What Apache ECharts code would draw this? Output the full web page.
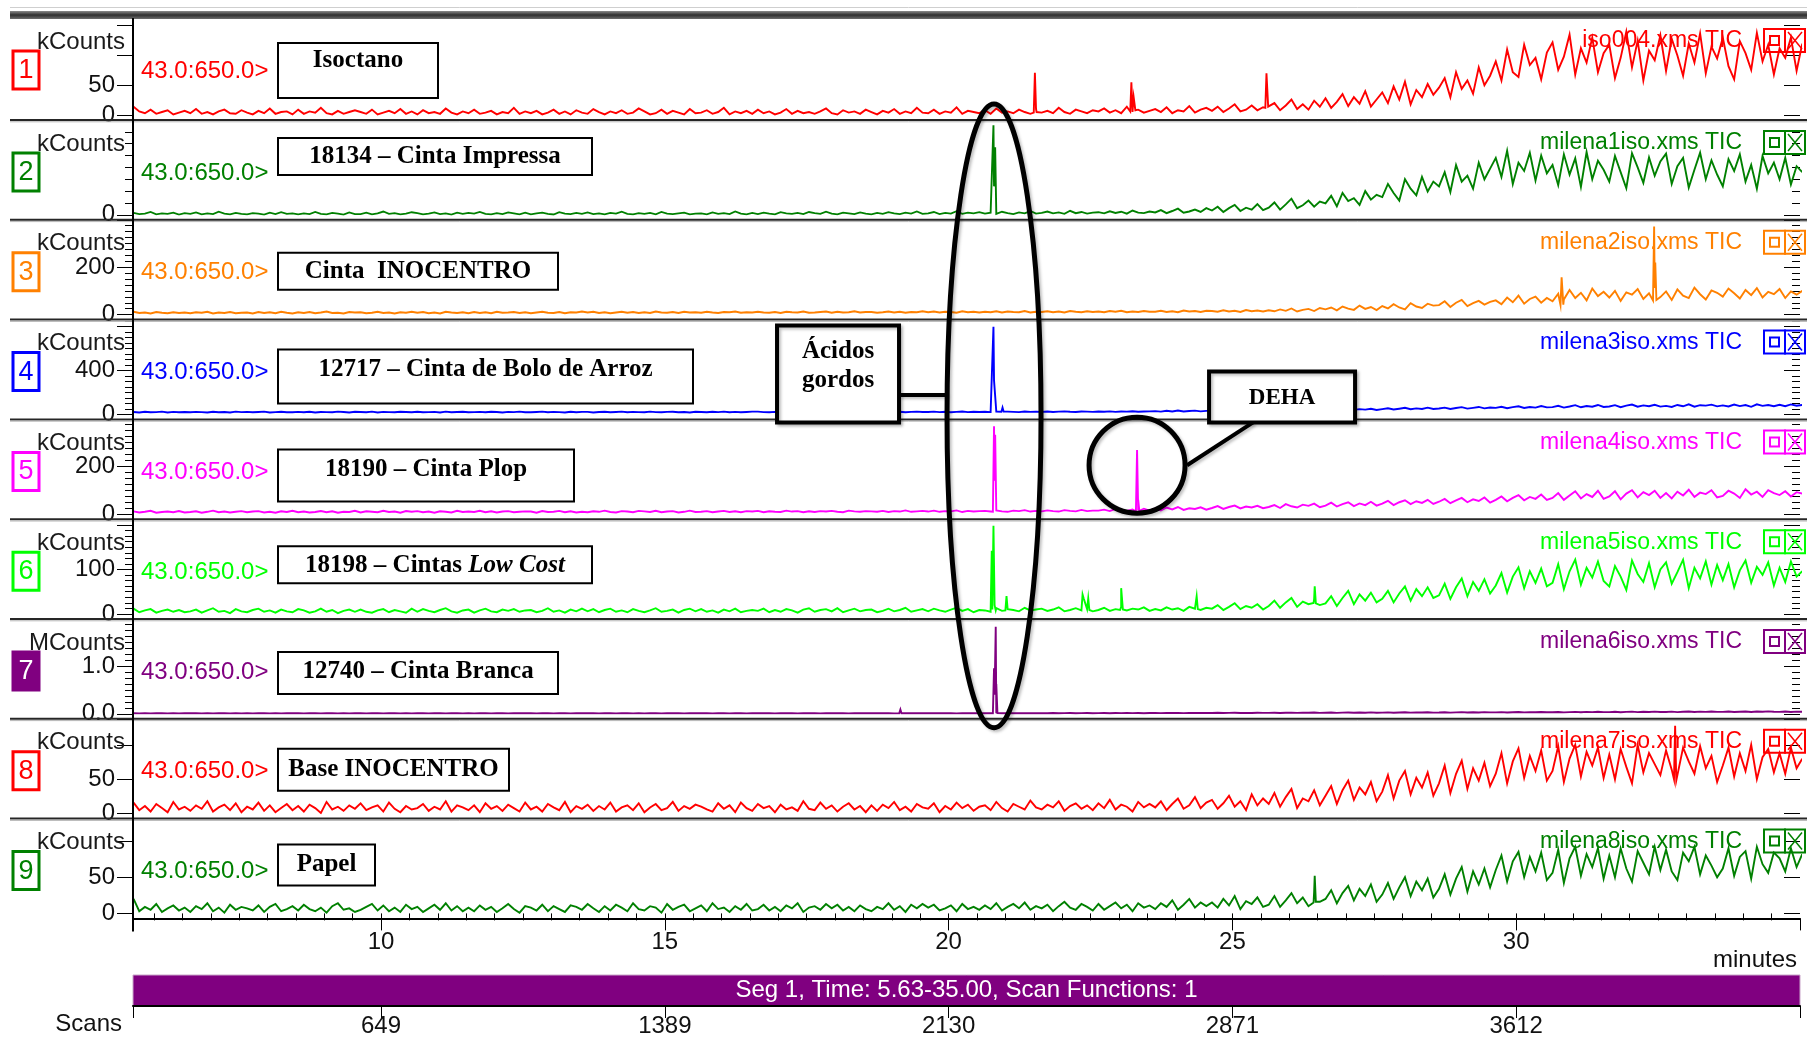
<!DOCTYPE html>
<html>
<head>
<meta charset="utf-8">
<title>TIC – amostras</title>
<script src="https://cdn.jsdelivr.net/npm/echarts@6/dist/echarts.min.js"></script>
<style>
  html, body { margin: 0; padding: 0; background: #ffffff; }
  #chart { width: 1807px; height: 1038px; }
</style>
</head>
<body>
<div id="chart"></div>
<script>
// ---- acquisition ----------------------------------------------------------
const timeRange = [5.63, 35.0];          // minutes
const T_START = 5.64, T_STEP = 0.1;      // TIC sampling used for the traces below (10 values per minute)
const massRange = '43.0:650.0>';

// ---- per-trace labels -----------------------------------------------------
const sampleNames = ['Isoctano', '18134 – Cinta Impressa', 'Cinta  INOCENTRO',
  '12717 – Cinta de Bolo de Arroz', '18190 – Cinta Plop', '18198 – Cintas Low Cost',
  '12740 – Cinta Branca', 'Base INOCENTRO', 'Papel'];
const italicPart = 'Low Cost';
const fileNames = ['iso004.xms TIC', 'milena1iso.xms TIC', 'milena2iso.xms TIC',
  'milena3iso.xms TIC', 'milena4iso.xms TIC', 'milena5iso.xms TIC',
  'milena6iso.xms TIC', 'milena7iso.xms TIC', 'milena8iso.xms TIC'];
const unitNames = ['kCounts', 'kCounts', 'kCounts', 'kCounts', 'kCounts', 'kCounts',
  'MCounts', 'kCounts', 'kCounts'];

// ---- y scales ---------------------------------------------------------------
const yMax      = [163, 400, 400, 865, 396, 213, 1.98, 138, 131];
const yMajor    = [50, 400, 200, 400, 200, 100, 1, 50, 50];
const yMinor    = [50, 50, 25, 50, 25, 12.5, 0.125, 50, 50];
const yLabelAt  = [[0, 50], [0], [0, 200], [0, 400], [0, 200], [0, 100], [0, 1], [0, 50], [0, 50]];
const yDecimals = [0, 0, 0, 0, 0, 0, 1, 0, 0];

// ---- time axis ticks & scan numbers ----------------------------------------
const timeLabels = [10, 15, 20, 25, 30];
const scanNumbers = [649, 1389, 2130, 2871, 3612];

// ---- TIC traces: one row per minute, starting at T_START --------------------
const ticIsoctano = [
  14,6,3,9,2,5,8,1,4,7,  3,10,2,5,1,6,9,3,2,8,  4,1,7,3,11,2,5,6,1,9,  2,6,4,12,3,1,7,2,5,8,
  5,2,9,1,4,7,3,10,2,6,  1,8,3,5,2,11,4,1,6,3,  9,2,4,7,1,5,3,12,2,6,  3,7,1,4,9,2,6,1,8,4,
  2,10,5,1,6,3,8,2,4,11,  6,1,3,9,2,7,4,1,10,3,  4,8,2,5,12,1,6,3,7,2,  9,3,6,1,4,10,2,7,3,5,
  2,6,11,3,1,8,4,6,2,9,  5,1,7,4,10,2,6,3,12,4,  3,9,2,6,4,13,2,7,5,3,  8,2,11,4,6,3,9,5,2,10,
  4,7,3,12,5,2,9,6,3,8,  6,11,4,8,3,14,5,9,4,7,  10,5,13,3,8,6,15,4,9,12,  7,14,5,11,18,6,9,16,8,13,
  12,20,8,16,26,10,18,9,24,14,  28,12,22,35,15,30,19,40,14,26,  38,20,48,26,56,18,42,30,52,34,
  46,62,30,72,44,58,36,80,50,66,  90,58,110,72,64,118,84,96,60,105,  122,76,98,135,68,112,88,130,72,104,
  118,62,96,140,80,125,58,108,92,134,  74,128,100,66,120,88,137,70,115,95,  130,82,60,124,104,76,138,90,118,68,
  112,96,130,74,120];
const ticCintaImpressa = [
  8,3,5,12,2,6,4,9,1,7,  4,10,2,6,3,13,5,2,8,4,  2,7,5,1,9,3,11,4,6,2,  6,3,12,4,2,8,5,1,10,3,
  3,9,2,6,14,4,7,2,5,11,  7,2,5,10,3,6,1,9,4,8,  5,12,4,2,7,3,10,6,2,9,  2,6,9,4,1,11,5,3,8,4,
  10,3,6,2,8,5,13,4,2,7,  4,8,2,12,5,3,6,9,2,5,  6,2,10,4,7,3,14,5,2,8,  3,9,5,2,11,6,4,8,3,12,
  7,4,13,5,2,9,6,3,10,5,  2,8,4,11,6,3,9,5,14,4,  6,12,3,8,5,15,4,9,6,11,  5,9,4,13,7,3,10,6,16,5,
  8,14,6,10,4,17,7,12,5,9,  11,6,15,8,13,5,18,9,7,14,  10,20,7,16,26,9,14,22,12,28,  18,34,12,28,42,16,30,22,45,20,
  30,52,22,44,68,28,40,60,34,56,  48,80,36,92,58,70,42,100,64,84,  75,130,92,60,150,110,82,160,98,140,
  120,180,96,210,140,165,110,220,150,195,  240,160,270,130,220,185,262,145,250,175,  210,125,255,170,238,118,265,150,228,190,
  140,248,180,112,260,200,135,242,165,225,  258,130,205,240,115,190,262,150,230,170,  120,235,185,255,140,210,110,248,175,220,
  150,240,128,205,180];
const ticCintaInocentro = [
  12,7,9,5,11,8,6,10,7,9,  6,10,8,12,5,9,7,11,6,8,  9,5,11,7,10,6,12,8,5,10,  7,11,6,9,13,7,8,5,11,9,
  10,6,8,12,7,9,5,10,8,12,  8,11,6,9,5,12,9,7,10,6,  11,7,10,6,12,8,9,11,7,10,  6,9,12,8,7,11,6,10,9,13,
  9,12,7,10,6,9,12,8,11,7,  10,7,13,9,8,11,7,12,9,10,  8,12,9,7,11,10,13,8,10,9,  12,9,8,11,7,12,10,9,13,8,
  9,11,13,8,12,9,10,14,9,11,  11,8,10,13,9,12,8,11,10,14,  10,13,9,12,11,8,14,10,12,9,  12,10,14,9,13,11,10,15,9,12,
  11,14,10,13,9,15,12,10,14,11,  13,10,15,12,16,10,13,11,15,12,  12,16,11,14,10,17,13,15,11,16,  15,12,18,13,16,11,19,14,17,13,
  18,14,22,16,26,13,20,24,15,28,  22,30,18,34,25,20,38,24,32,19,  36,26,44,30,22,48,34,28,46,38,
  40,56,32,50,62,36,48,58,42,54,  60,44,72,52,80,46,66,76,50,70,  56,88,64,104,70,92,60,110,78,96,
  72,100,58,94,84,108,66,90,112,74,  98,62,106,80,70,114,86,64,102,92,  76,110,90,68,104,82,112,72,96,86,
  108,70,98,84,100];
const ticBoloArroz = [
  22,18,24,19,21,25,18,23,20,22,  19,23,21,17,24,20,22,18,25,21,  23,19,22,25,18,21,24,20,19,23,  20,24,18,22,21,19,25,22,18,24,
  22,20,25,18,23,21,19,24,22,20,  24,19,21,23,18,25,20,22,24,19,  21,23,19,24,22,18,23,21,25,20,  19,22,25,20,23,21,18,24,20,23,
  23,18,22,24,19,22,25,19,23,21,  20,25,21,19,23,24,20,22,18,24,  22,19,24,21,25,20,23,19,22,25,  25,21,20,23,19,24,22,20,24,21,
  21,24,22,19,25,21,20,23,22,19,  23,20,25,22,21,24,19,23,25,22,  22,25,21,24,20,23,26,21,24,22,  24,21,26,22,25,23,21,27,23,25,
  23,27,22,25,28,24,22,26,25,23,  26,24,28,23,27,25,29,24,26,28,  30,25,33,27,36,26,31,34,28,32,  34,29,38,31,36,42,30,35,40,33,
  38,33,44,36,40,47,35,42,38,45,  42,50,38,46,53,41,48,44,52,40,  48,56,45,52,60,47,55,50,62,49,
  54,62,50,58,66,53,60,68,55,63,  60,70,56,66,74,59,68,62,76,64,  66,78,62,72,84,65,76,70,86,68,
  72,84,66,80,90,70,82,74,88,71,  78,68,86,74,92,70,84,80,89,73,  82,72,90,76,86,69,92,78,85,74,
  88,75,91,79,86];
const ticCintaPlop = [
  12,7,10,14,6,9,11,8,13,7,  9,12,6,10,15,8,11,7,10,13,  8,11,13,7,10,6,12,9,14,8,  11,7,9,13,8,12,6,10,9,14,
  7,12,10,8,14,9,11,6,13,10,  13,8,11,6,12,10,7,14,9,11,  9,14,8,12,7,11,13,8,10,12,  11,6,13,9,10,14,8,12,7,10,
  8,12,10,15,9,7,13,11,8,14,  12,9,14,8,11,13,7,10,15,9,  10,13,8,11,14,9,12,8,13,11,  14,8,12,10,9,15,11,13,8,12,
  9,13,11,14,10,8,15,12,10,13,  12,10,14,9,13,11,16,10,12,14,  11,15,10,13,12,16,9,14,11,13,  14,11,16,12,10,15,13,17,11,14,
  12,16,13,11,17,14,12,18,13,15,  15,19,13,22,16,14,20,17,23,15,  24,16,28,20,30,18,25,22,29,19,  26,34,22,30,36,24,32,28,35,25,
  30,38,26,42,33,28,40,35,44,29,  36,48,32,42,50,34,45,38,52,36,  44,56,38,50,58,42,54,47,60,43,
  52,64,46,58,68,50,62,55,70,48,  60,74,54,68,80,58,72,64,82,60,  68,88,60,78,96,66,84,72,98,64,
  74,96,62,86,100,70,92,80,98,68,  88,66,94,78,102,72,90,84,100,70,  76,98,86,68,104,82,94,72,100,88,
  80,96,74,92,86];
const ticLowCost = [
  12,4,8,11,3,7,10,5,9,4,  6,10,3,8,13,5,7,2,11,6,  4,9,12,5,8,3,10,6,4,11,  8,3,6,12,5,9,2,7,10,5,
  10,5,3,8,11,4,9,6,3,12,  5,11,7,4,9,13,6,3,8,10,  3,8,12,6,4,10,7,11,5,8,  9,4,7,13,5,8,3,10,6,12,
  6,11,4,9,12,5,8,4,11,7,  4,8,13,5,7,10,3,9,12,6,  11,5,8,3,10,6,12,4,7,9,  7,12,4,9,5,11,8,3,10,13,
  5,9,11,6,13,4,8,12,6,9,  10,4,7,12,6,9,14,5,8,11,  6,12,8,5,10,14,7,11,4,9,  8,5,13,7,11,9,6,14,8,10,
  12,7,10,15,6,9,13,8,11,6,  9,14,7,11,16,8,12,10,15,7,  11,8,15,10,13,7,16,12,9,14,  12,20,9,16,24,11,18,14,22,10,
  18,30,14,26,36,16,28,22,34,20,  24,40,18,36,52,22,44,30,48,26,  34,52,26,46,62,30,56,40,60,36,
  42,68,34,60,80,40,72,52,78,46,  64,92,48,84,105,58,96,70,102,62,  70,112,56,96,122,66,104,82,118,74,
  62,108,84,54,120,90,72,114,60,100,  116,68,94,122,58,104,80,118,66,110,  76,112,60,98,120,70,106,88,116,64,
  104,72,118,84,96];
const ticCintaBranca = [
  .012,.009,.011,.008,.013,.010,.009,.012,.008,.011,  .010,.013,.008,.011,.009,.012,.010,.008,.013,.009,
  .011,.008,.012,.010,.009,.013,.008,.011,.010,.012,  .009,.012,.010,.008,.013,.011,.009,.012,.008,.010,
  .013,.009,.011,.012,.008,.010,.013,.009,.011,.008,  .010,.012,.009,.011,.013,.008,.012,.010,.009,.013,
  .008,.011,.013,.009,.010,.012,.008,.011,.013,.010,  .012,.009,.010,.013,.008,.011,.012,.009,.010,.012,
  .011,.013,.009,.010,.012,.008,.011,.013,.009,.011,  .009,.010,.012,.008,.011,.013,.010,.009,.012,.010,
  .013,.011,.009,.012,.010,.009,.013,.011,.008,.012,  .010,.012,.011,.009,.013,.010,.012,.009,.011,.013,
  .012,.009,.013,.011,.010,.012,.009,.013,.010,.011,  .011,.013,.010,.012,.009,.014,.011,.010,.013,.012,
  .013,.010,.012,.014,.011,.009,.013,.012,.010,.014,  .012,.015,.011,.013,.016,.012,.014,.011,.015,.013,
  .014,.012,.016,.013,.015,.017,.012,.014,.016,.013,  .015,.018,.013,.016,.014,.019,.015,.017,.013,.016,
  .017,.014,.019,.016,.018,.015,.020,.016,.018,.017,  .018,.021,.016,.019,.022,.017,.020,.018,.021,.019,
  .020,.023,.018,.022,.025,.019,.024,.021,.026,.020,  .022,.026,.020,.025,.028,.021,.027,.023,.029,.022,
  .025,.029,.023,.027,.031,.024,.030,.026,.032,.025,  .027,.032,.025,.030,.034,.026,.033,.028,.035,.029,
  .030,.035,.028,.033,.037,.029,.036,.031,.038,.032,  .033,.039,.030,.036,.041,.032,.040,.034,.042,.035,
  .036,.042,.033,.040,.045,.035,.043,.038,.046,.037,  .039,.045,.035,.043,.047,.038,.046,.040,.048,.041,
  .040,.047,.037,.044,.049,.039,.048,.042,.050,.043,  .041,.048,.038,.046,.044];
const ticBaseInocentro = [
  16,5,11,3,14,8,2,17,6,10,  4,12,7,18,3,9,13,5,15,2,  10,6,16,4,12,2,8,14,5,11,  3,13,8,1,17,6,10,4,12,7,
  15,5,9,12,3,16,7,2,11,6,  8,14,4,10,6,18,3,12,9,5,  12,2,15,7,11,4,13,8,3,16,  6,10,3,14,9,5,17,2,11,7,
  13,4,11,6,16,3,9,12,5,15,  2,9,14,5,8,17,4,11,7,13,  10,6,3,15,7,12,2,16,8,4,  14,8,11,2,13,6,9,4,18,7,
  5,16,7,12,3,10,15,6,11,2,  12,4,13,8,17,5,10,3,14,9,  7,15,2,11,6,16,8,13,4,10,  12,5,17,8,3,14,10,6,19,9,
  6,13,9,18,4,11,15,7,12,5,  15,8,20,6,13,10,3,17,9,14,  9,18,5,14,22,7,12,24,8,16,  20,7,15,26,10,18,5,28,12,22,
  14,30,10,24,36,8,22,18,34,12,  26,40,14,34,48,20,38,28,46,18,  32,56,22,48,62,28,52,38,60,26,
  44,70,30,58,77,36,66,48,74,40,  58,88,44,76,95,52,84,62,92,48,  62,98,46,80,100,54,90,70,96,52,
  86,50,94,68,44,100,60,88,72,56,  92,64,48,96,76,58,98,66,84,46,  70,96,54,88,62,100,50,82,94,60,
  88,58,96,66,80];
const ticPapel = [
  20,3,9,5,13,2,7,11,4,8,  2,10,6,14,3,8,1,12,5,9,  7,4,11,2,9,13,3,6,10,4,  12,6,3,8,1,10,14,5,7,2,
  5,9,13,4,11,3,8,2,12,6,  9,2,7,12,5,14,4,10,3,8,  3,11,5,9,2,7,13,6,1,10,  8,4,12,3,10,6,2,11,9,5,
  13,7,2,10,4,12,8,3,14,6,  4,10,8,1,13,5,9,12,3,7,  11,3,14,6,8,2,10,5,13,4,  6,12,4,9,3,11,7,14,2,8,
  10,5,13,7,12,4,9,3,11,6,  3,9,6,14,5,10,2,12,7,13,  8,12,4,7,11,3,13,6,9,5,  11,6,14,4,9,13,7,15,5,10,
  7,12,3,10,16,8,5,13,9,4,  13,5,10,15,7,12,3,14,8,11,  6,14,9,18,5,12,20,8,15,10,  15,8,20,11,24,6,17,13,22,9,
  12,24,9,18,28,14,22,10,30,16,  20,32,14,28,38,18,34,24,40,16,  26,42,20,36,50,24,44,32,48,22,
  34,54,26,48,64,30,58,40,62,36,  60,80,44,72,85,50,78,58,84,46,  56,88,42,76,92,52,82,64,90,48,
  80,50,90,62,44,86,70,54,92,60,  88,58,46,84,72,92,54,80,66,50,  62,90,52,78,86,48,92,68,56,84,
  76,58,90,64,82];

// ---- sharp peaks, [time, value] --------------------------------------------
const peaksIsoctano = [[21.50, 4], [21.52, 71], [21.55, 5], [23.20, 6], [23.22, 55], [23.26, 30], [23.29, 8],
  [25.58, 12], [25.60, 70], [25.63, 14]];
const peaksCintaImpressa = [[20.77, 6], [20.79, 378], [20.80, 120], [20.82, 285], [20.84, 8]];
const peaksCintaInocentro = [[30.78, 40], [30.80, 157], [30.83, 42], [32.41, 60], [32.43, 372], [32.45, 220], [32.47, 62]];
const peaksBoloArroz = [[20.77, 22], [20.79, 800], [20.80, 310], [20.82, 305], [20.84, 26], [20.93, 24], [20.95, 62], [20.97, 25]];
const peaksCintaPlop = [[20.78, 10], [20.80, 367], [20.81, 140], [20.82, 332], [20.84, 12],
  [23.30, 12], [23.32, 268], [23.34, 60], [23.36, 14]];
const peaksLowCost = [[20.74, 8], [20.76, 142], [20.77, 10], [20.79, 198], [20.81, 20], [20.83, 8],
  [21.00, 8], [21.02, 40], [21.04, 9], [22.34, 8], [22.36, 44], [22.38, 35], [22.46, 35], [22.48, 9],
  [23.02, 9], [23.04, 58], [23.07, 10], [24.35, 10], [24.37, 40], [24.39, 11], [26.43, 25], [26.45, 62], [26.47, 24]];
const peaksCintaBranca = [[19.13, .01], [19.15, .09], [19.17, .01], [20.78, .012], [20.80, .95], [20.81, .40],
  [20.83, 1.82], [20.84, .62], [20.86, .015], [21.00, .012], [21.02, .05], [21.04, .012]];
const peaksBaseInocentro = [[32.78, 50], [32.80, 128], [32.82, 48]];
const peaksPapel = [[26.43, 15], [26.45, 52], [26.47, 16]];

const fattyAcidTime = 20.8;   // marked "Ácidos gordos"
const dehaTime = 23.32;       // marked "DEHA"

// ---- assembled -------------------------------------------------------------
const traces = [ticIsoctano, ticCintaImpressa, ticCintaInocentro, ticBoloArroz, ticCintaPlop,
  ticLowCost, ticCintaBranca, ticBaseInocentro, ticPapel];
const peaks = [peaksIsoctano, peaksCintaImpressa, peaksCintaInocentro, peaksBoloArroz, peaksCintaPlop,
  peaksLowCost, peaksCintaBranca, peaksBaseInocentro, peaksPapel];
const traceColors = ['#ff0000', '#008000', '#ff8000', '#0000ff', '#ff00ff', '#00ff00', '#800080', '#ff0000', '#008000'];

// ---- page layout -----------------------------------------------------------
const L = { left: 133, right: 1800, top0: 18, sep0: 120, pitch: 99.8, zeroGap: 5, width: 1807 };
const SANS = '"Liberation Sans", Arial, sans-serif';
const SERIF = '"Liberation Serif", "Times New Roman", serif';
function panelTop(k) { return k === 0 ? L.top0 : L.sep0 + (k - 1) * L.pitch; }
function panelSep(k) { return L.sep0 + k * L.pitch; }
// name boxes: [x, dy from panel top, width, height, text dy]
const nameBoxes = [[278, 25, 160, 55, 43], [278, 18, 314, 37, 37], [278, 33, 280, 37, 52],
  [278, 30, 415, 54, 50], [278, 30, 296, 52, 50], [278, 27, 314, 37, 46], [278, 33, 280, 42, 53],
  [278, 30, 231, 42, 51], [278, 26, 97, 41, 46]];

function buildTrace(values, pk) {
  const pts = values.map((v, i) => [+(T_START + i * T_STEP).toFixed(3), v]);
  pk.forEach(p => pts.push(p));
  pts.sort((a, b) => a[0] - b[0]);
  return pts;
}

const grids = [], xAxes = [], yAxes = [], series = [];
const tickStyle = { color: '#000', width: 1 };
for (let k = 0; k < 9; k++) {
  const top = panelTop(k);
  grids.push({ left: L.left, top: top, width: L.right - L.left, height: panelSep(k) - L.zeroGap - top,
    containLabel: false, outerBoundsMode: 'none' });
  const isBottom = k === 8;
  xAxes.push({
    gridIndex: k, type: 'value', min: timeRange[0], max: timeRange[1], show: isBottom,
    position: 'bottom', offset: L.zeroGap, splitLine: { show: false },
    axisLine: { show: isBottom, onZero: false, lineStyle: { color: '#000', width: 2 } },
    axisTick: { show: isBottom, length: 12, lineStyle: tickStyle,
      customValues: [timeRange[0]].concat(timeLabels, [timeRange[1]]) },
    axisLabel: { show: isBottom, customValues: timeLabels, margin: 12, color: '#111',
      fontSize: 24, fontFamily: SANS }
  });
  const base = { gridIndex: k, type: 'value', min: 0, max: yMax[k], splitLine: { show: false },
    axisLine: { show: false } };
  const fmt = v => yLabelAt[k].some(l => Math.abs(l - v) < 1e-9) ? v.toFixed(yDecimals[k]) : '';
  yAxes.push(Object.assign({}, base, { position: 'left', interval: yMinor[k],
    axisTick: { show: true, length: 8, lineStyle: tickStyle }, axisLabel: { show: false } }));
  yAxes.push(Object.assign({}, base, { position: 'left', interval: yMajor[k],
    axisTick: { show: true, length: 16, lineStyle: tickStyle },
    axisLabel: { show: true, margin: 18, formatter: fmt, color: '#111', fontSize: 24, fontFamily: SANS,
      showMaxLabel: true, showMinLabel: true } }));
  yAxes.push(Object.assign({}, base, { position: 'right', interval: yMinor[k],
    axisTick: { show: true, inside: true, length: 8, lineStyle: tickStyle }, axisLabel: { show: false } }));
  yAxes.push(Object.assign({}, base, { position: 'right', interval: yMajor[k],
    axisTick: { show: true, inside: true, length: 16, lineStyle: tickStyle }, axisLabel: { show: false } }));
  series.push({
    type: 'line', xAxisIndex: k, yAxisIndex: 4 * k + 1, data: buildTrace(traces[k], peaks[k]),
    showSymbol: false, symbol: 'none', sampling: null, z: 3,
    lineStyle: { color: traceColors[k], width: 1.9, join: 'miter' }, itemStyle: { color: traceColors[k] }
  });
}
// minor minute ticks on the bottom panel
const minorTimes = [];
for (let t = 6; t < timeRange[1]; t += 0.5) minorTimes.push(t);
xAxes.push({ gridIndex: 8, type: 'value', min: timeRange[0], max: timeRange[1], position: 'bottom',
  offset: L.zeroGap, splitLine: { show: false }, axisLine: { show: false },
  axisTick: { show: true, length: 7, lineStyle: tickStyle, customValues: minorTimes },
  axisLabel: { show: false } });
// segment bar with scan numbers
grids.push({ left: L.left, top: 975, width: L.right - L.left, height: 31, show: true,
  backgroundColor: '#800080', borderColor: '#c9a6c9', borderWidth: 1,
  containLabel: false, outerBoundsMode: 'none' });
xAxes.push({ gridIndex: 9, type: 'value', min: timeRange[0], max: timeRange[1], position: 'bottom',
  splitLine: { show: false }, axisLine: { show: true, onZero: false, lineStyle: { color: '#000', width: 2 } },
  axisTick: { show: true, length: 12, lineStyle: tickStyle,
    customValues: [timeRange[0]].concat(timeLabels, [timeRange[1]]) },
  axisLabel: { customValues: timeLabels, margin: 8, color: '#111', fontSize: 24, fontFamily: SANS,
    formatter: v => { const i = timeLabels.findIndex(t => Math.abs(t - v) < 1e-6); return i < 0 ? '' : String(scanNumbers[i]); } } });
yAxes.push({ gridIndex: 9, type: 'value', show: false, min: 0, max: 1 });

const chart = echarts.init(document.getElementById('chart'), null, { renderer: 'canvas' });
chart.setOption({
  backgroundColor: '#ffffff', animation: false,
  grid: grids, xAxis: xAxes, yAxis: yAxes, series: series
});

function txt(x, y, text, font, fill, align, z, extra) {
  return Object.assign({ type: 'text', x: x, y: y, z: z || 4, silent: true,
    style: { text: text, font: font, fill: fill, align: align || 'left', textAlign: align || 'left',
      verticalAlign: 'middle', textVerticalAlign: 'middle' } }, extra || {});
}

function buildGraphics(acidX, dehaX) {
  const els = [];
  // window frame
  els.push({ type: 'line', silent: true, z: 4, shape: { x1: 10, y1: 7.5, x2: L.width, y2: 7.5 },
    style: { stroke: '#cfcfcf', lineWidth: 1 } });
  els.push({ type: 'rect', silent: true, z: 6, shape: { x: 10, y: 11, width: L.width - 10, height: 8 },
    style: { fill: new echarts.graphic.LinearGradient(0, 0, 0, 1, [
      { offset: 0, color: '#8c8c8c' }, { offset: 0.5, color: '#2f2f2f' }, { offset: 1, color: '#6e6e6e' }]) } });
  for (let k = 0; k < 8; k++) {
    const y = panelSep(k);
    els.push({ type: 'line', silent: true, z: 6, shape: { x1: 10, y1: y, x2: L.width, y2: y },
      style: { stroke: '#262626', lineWidth: 2 } });
    els.push({ type: 'line', silent: true, z: 6, shape: { x1: 10, y1: y + 1.8, x2: L.width, y2: y + 1.8 },
      style: { stroke: '#b5b5b5', lineWidth: 1 } });
  }
  // time axis line (vertical)
  els.push({ type: 'line', silent: true, z: 6, shape: { x1: L.left, y1: L.top0, x2: L.left, y2: panelSep(8) + 13 },
    style: { stroke: '#000', lineWidth: 2 } });
  els.push(txt(L.right - 3, 960, 'minutes', '24px ' + SANS, '#111', 'right'));
  els.push(txt(122, 1024, 'Scans', '24px ' + SANS, '#111', 'right'));
  els.push(txt((L.left + L.right) / 2, 990, 'Seg 1, Time: 5.63-35.00, Scan Functions: 1', '24px ' + SANS, '#ffffff', 'center', 6));

  for (let k = 0; k < 9; k++) {
    const pt = panelTop(k), c = traceColors[k];
    const filled = k === 6;
    els.push({ type: 'rect', silent: true, z: 4, shape: { x: 13, y: pt + 33, width: 26, height: 38 },
      style: { fill: filled ? c : '#ffffff', stroke: c, lineWidth: 3 } });
    els.push(txt(26, pt + 52.5, String(k + 1), '27px ' + SANS, filled ? '#ffffff' : c, 'center', 5));
    els.push(txt(125, pt + 24, unitNames[k], '24px ' + SANS, '#1a1a1a', 'right', 5));
    els.push(txt(141, pt + 53, massRange, '24px ' + SANS, c, 'left', 1));
    els.push(txt(1742, pt + 23, fileNames[k], '23px ' + SANS, c, 'right', 1));
    // window buttons
    els.push({ type: 'rect', silent: true, z: 1, shape: { x: 1764, y: pt + 11, width: 21, height: 23 },
      style: { fill: 'none', stroke: c, lineWidth: 2 } });
    els.push({ type: 'rect', silent: true, z: 1, shape: { x: 1770, y: pt + 18, width: 9, height: 9 },
      style: { fill: 'none', stroke: c, lineWidth: 2 } });
    els.push({ type: 'rect', silent: true, z: 1, shape: { x: 1785, y: pt + 11, width: 20, height: 23 },
      style: { fill: 'none', stroke: c, lineWidth: 2 } });
    els.push({ type: 'line', silent: true, z: 1, shape: { x1: 1788, y1: pt + 14, x2: 1802, y2: pt + 31 },
      style: { stroke: c, lineWidth: 1.5 } });
    els.push({ type: 'line', silent: true, z: 1, shape: { x1: 1802, y1: pt + 14, x2: 1788, y2: pt + 31 },
      style: { stroke: c, lineWidth: 1.5 } });
    // sample name box
    const b = nameBoxes[k];
    els.push({ type: 'rect', silent: true, z: 10, shape: { x: b[0], y: pt + b[1], width: b[2], height: b[3] },
      style: { fill: '#ffffff', stroke: '#000', lineWidth: 2 } });
    const name = sampleNames[k];
    const cx = b[0] + b[2] / 2, cy = pt + b[4];
    if (name.indexOf(italicPart) >= 0) {
      els.push({ type: 'text', silent: true, z: 11, x: cx, y: cy,
        style: { text: name.replace(italicPart, '{i|' + italicPart + '}'), font: 'bold 25px ' + SERIF, fill: '#000',
          align: 'center', textAlign: 'center', verticalAlign: 'middle', textVerticalAlign: 'middle',
          rich: { i: { font: 'italic bold 25px ' + SERIF, fill: '#000' } } } });
    } else {
      els.push(txt(cx, cy, name, 'bold 25px ' + SERIF, '#000', 'center', 11));
    }
  }

  // fatty acids group
  const annStyle = { stroke: '#000', fill: 'none', lineWidth: 5, shadowColor: 'rgba(0,0,0,0.25)', shadowBlur: 3, shadowOffsetX: 2, shadowOffsetY: 2 };
  const ellTop = panelSep(0) - 16, ellBottom = panelTop(7) + 9;
  const ellCy = (ellTop + ellBottom) / 2, ellRy = (ellBottom - ellTop) / 2, ellRx = 47;
  els.push({ type: 'ellipse', silent: true, z: 12, shape: { cx: acidX, cy: ellCy, rx: ellRx, ry: ellRy }, style: annStyle });
  const acidBox = { x: acidX - 217, y: panelTop(3) + 6, w: 122, h: 97 };
  els.push({ type: 'line', silent: true, z: 12, shape: { x1: acidBox.x + acidBox.w, y1: 395, x2: acidX - ellRx, y2: 395 },
    style: Object.assign({}, annStyle, { lineWidth: 4 }) });
  els.push({ type: 'rect', silent: true, z: 12, shape: { x: acidBox.x, y: acidBox.y, width: acidBox.w, height: acidBox.h },
    style: Object.assign({}, annStyle, { fill: '#ffffff', lineWidth: 4 }) });
  els.push(txt(acidBox.x + acidBox.w / 2, acidBox.y + 26, 'Ácidos', 'bold 25px ' + SERIF, '#000', 'center', 13));
  els.push(txt(acidBox.x + acidBox.w / 2, acidBox.y + 55, 'gordos', 'bold 25px ' + SERIF, '#000', 'center', 13));

  // DEHA group
  const dehaCy = panelSep(4) - L.zeroGap - 49, dehaR = 48;
  els.push({ type: 'circle', silent: true, z: 12, shape: { cx: dehaX, cy: dehaCy, r: dehaR }, style: annStyle });
  const dehaBox = { x: dehaX + 72, y: panelTop(4) - 48, w: 146, h: 51 };
  els.push({ type: 'line', silent: true, z: 12, shape: { x1: dehaX + dehaR + 2, y1: dehaCy, x2: dehaX + 116, y2: dehaBox.y + dehaBox.h },
    style: Object.assign({}, annStyle, { lineWidth: 4 }) });
  els.push({ type: 'rect', silent: true, z: 12, shape: { x: dehaBox.x, y: dehaBox.y, width: dehaBox.w, height: dehaBox.h },
    style: Object.assign({}, annStyle, { fill: '#ffffff', lineWidth: 4 }) });
  els.push(txt(dehaBox.x + dehaBox.w / 2, dehaBox.y + 27, 'DEHA', 'bold 23px ' + SERIF, '#000', 'center', 13));
  return els;
}

const acidX = chart.convertToPixel({ xAxisIndex: 0 }, fattyAcidTime);
const dehaX = chart.convertToPixel({ xAxisIndex: 4 }, dehaTime);
chart.setOption({ graphic: { elements: buildGraphics(acidX, dehaX) } });
</script>
</body>
</html>
